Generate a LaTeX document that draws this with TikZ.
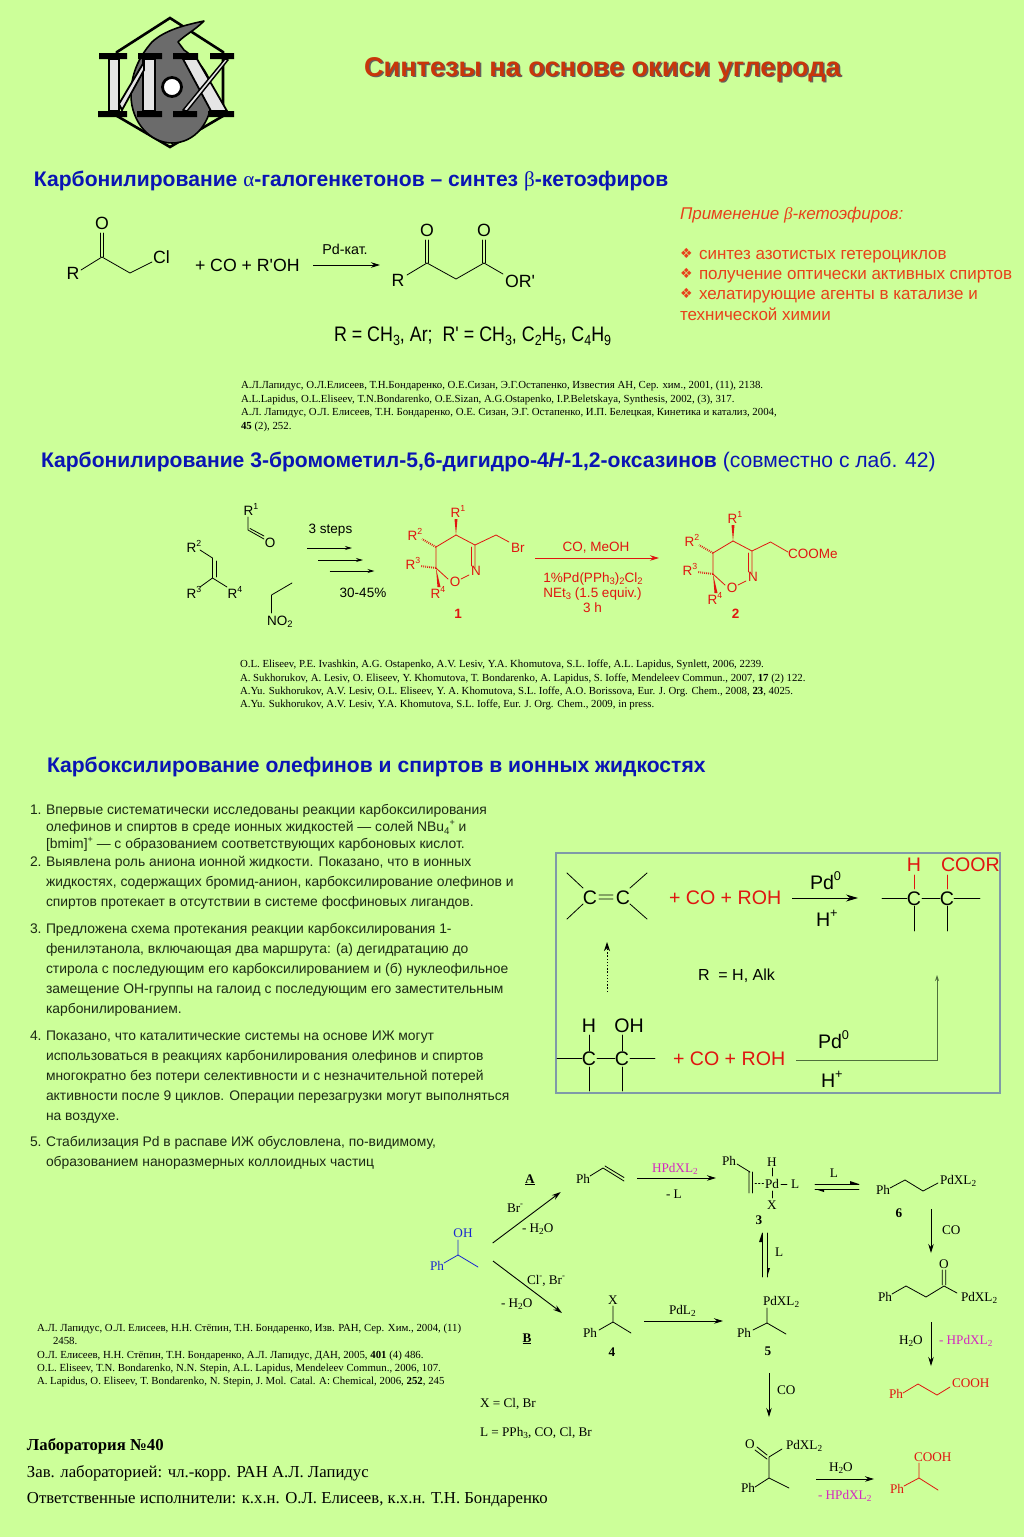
\documentclass[tikz,border=0pt]{standalone}
\usepackage{fontspec}
\setmainfont{Liberation Sans}
\newfontfamily\serf{Liberation Serif}
\newfontfamily\dejav{DejaVu Sans}
\newfontfamily\plainsans{Liberation Sans}
\usetikzlibrary{arrows.meta}
\definecolor{bgc}{HTML}{CCFF99}
\definecolor{headblue}{HTML}{0A14B4}
\definecolor{titlered}{HTML}{C8360A}
\definecolor{oran}{HTML}{E8401A}
\definecolor{rd}{HTML}{E01510}
\definecolor{mag}{HTML}{D428C0}
\definecolor{chemblue}{HTML}{1A28D0}
\definecolor{txtc}{HTML}{1C2A14}
\definecolor{panelc}{HTML}{7F9AA8}
\definecolor{olv}{HTML}{4F6F3C}
\newcommand\fs[1]{\fontsize{#1}{#1}\selectfont}
\newcommand\upp[1]{\raisebox{.42em}{\scalebox{.65}{#1}}}
\newcommand\dnn[1]{\raisebox{-.22em}{\scalebox{.7}{#1}}}
\newcommand\apo{{\plainsans '}}
\newcounter{nn}
\newcommand\lb[4]{\stepcounter{nn}\node[#1] (n\arabic{nn}) at (#2,#3) {#4};}
\newcommand\arr[6][]{\coordinate (#2-s) at (#3,#4);\coordinate (#2-e) at (#5,#6);\draw[arw,#1] (#2-s) -- (#2-e);}
\tikzset{
 tw/.style={anchor=base west,inner sep=0pt,outer sep=0pt},
 tc/.style={anchor=base,inner sep=0pt,outer sep=0pt},
 chl/.style={font=\fs{17.7}},
 chm/.style={font=\fs{13.5}},
 chb/.style={font=\fs{19.6}},
 sr/.style={font=\fs{13.2}\serf},
 srb/.style={font=\fs{13.2}\serf\bfseries},
 refs/.style={font=\fs{10.82}\serf},
 lst/.style={font=\fs{13.88},text=txtc},
 hd/.style={font=\fs{21.1}\bfseries,text=headblue},
 appl/.style={font=\fs{17},text=oran},
 bond/.style={line width=.8pt,line cap=round,line join=round},
 rbond/.style={bond,draw=rd},
 bbond/.style={bond,draw=chemblue},
 arw/.style={line width=.9pt,-{Stealth[length=9pt,width=5.5pt]}},
 hash/.style={line width=2pt,dash pattern=on .8pt off 1.2pt},
}
\newcommand\oxaring{%
 \draw[rbond] (456,535) -- (475,545) -- (475,568) (471.5,547) -- (471.5,566);
 \draw[rbond] (469,575) -- (461,579) (448,579) -- (436,568) -- (436,547) -- (456,535);
 \fill[rd] (454.5,519) -- (456,535) -- (457.5,519) -- cycle;
 \draw[hash,draw=rd] (436,547) -- (422,539);
 \draw[hash,draw=rd] (436,568) -- (421,566);
 \fill[rd] (436,568) -- (437.5,587) -- (440.5,587) -- cycle;
 \lb{tc,chm,text=rd}{458}{517}{R\upp{1}}
 \lb{tc,chm,text=rd}{476}{575}{N}
 \lb{tc,chm,text=rd}{455}{586}{O}
 \lb{tc,chm,text=rd}{415}{540}{R\upp{2}}
 \lb{tc,chm,text=rd}{413}{569}{R\upp{3}}
 \lb{tc,chm,text=rd}{438}{598}{R\upp{4}}
}
\begin{document}
\begin{tikzpicture}[x=1pt,y=-1pt]
\useasboundingbox (0,0) rectangle (1024,1537);
\fill[bgc] (0,0) rectangle (1024,1537);
% ---------- logo
\draw[line width=2.6pt,line join=miter] (170,18) -- (223,52) -- (223,116) -- (170,147) -- (117,116) -- (117,52) -- cycle;
\draw[line width=1.6pt,fill=black!58,line join=round] (204,21) .. controls (185,25) and (165,30) .. (152,42) .. controls (138,58) and (131,75) .. (131,95) .. controls (131,122) and (150,143) .. (172,143) .. controls (195,143) and (212,122) .. (212,95) .. controls (212,75) and (198,60) .. (184,50) -- (178,42) .. controls (185,35) and (195,30) .. (204,21) -- cycle;
\fill (99,53) rectangle (127,59) (138,53) rectangle (162,59) (173,53) rectangle (198,59) (210,53) rectangle (234,59);
\fill (98,111) rectangle (127,117) (137,111) rectangle (162,117) (173,111) rectangle (197,117) (208,111) rectangle (234,117);
\draw[line width=1.8pt,fill=black!10] (109,59) rectangle (119,111);
\draw[line width=1.8pt,fill=black!10] (143,59) rectangle (155,111);
\draw[line width=1.8pt,fill=black!10] (119,104) -- (144,62) -- (144,70) -- (122,110) -- cycle;
\draw[line width=1.8pt,fill=black!10] (183,59) -- (197,59) -- (227,111) -- (211,111) -- cycle;
\draw[line width=1.4pt,fill=black!10] (225,59) -- (228,60) -- (187,111) -- (183,110) -- cycle;
\draw[line width=2.8pt,fill=white] (172,87) circle (9.5);
% ---------- title
\lb{tw,font=\fs{27.15}\bfseries,text=black!62}{365.5}{77.5}{Синтезы на основе окиси углерода}
\lb{tw,font=\fs{27.15}\bfseries,text=titlered}{364}{76}{Синтезы на основе окиси углерода}
% ---------- section 1
\lb{tw,hd}{34}{186.5}{Карбонилирование {\serf\mdseries α}-галогенкетонов – синтез {\serf\mdseries β}-кетоэфиров}
\draw[bond] (81,270) -- (102,257) -- (130,273) -- (152,262);
\draw[bond] (100.3,233) -- (100.3,257) (103.7,233) -- (103.7,257);
\lb{tc,chl}{102}{229}{O}
\lb{tc,chl}{73}{279}{R}
\lb{tw,chl}{153}{263}{Cl}
\lb{tw,chl}{195}{271}{+ CO + R\apo OH}
\arr{a1}{313}{265}{380}{265}
\lb{tc,font=\fs{14.3}}{345}{254}{Pd-кат.}
\draw[bond] (407,275) -- (427,263) -- (456,279) -- (484,263) -- (503,274);
\draw[bond] (425.3,240) -- (425.3,263) (428.7,240) -- (428.7,263);
\draw[bond] (482.3,240) -- (482.3,263) (485.7,240) -- (485.7,263);
\lb{tc,chl}{427}{236}{O}
\lb{tc,chl}{484}{236}{O}
\lb{tc,chl}{398}{286}{R}
\lb{tw,chl}{505}{287}{OR\apo}
\lb{tw,font=\fs{21}}{334}{341}{\scalebox{.85}[1]{R = CH\dnn{3}, Ar;\ \ R\apo\ = CH\dnn{3}, C\dnn{2}H\dnn{5}, C\dnn{4}H\dnn{9}}}
\lb{tw,appl}{680}{219}{\itshape Применение {\serf β}-кетоэфиров:}
\lb{tw,appl,font=\fs{14}\dejav}{680}{258}{❖}
\lb{tw,appl}{699}{259}{синтез азотистых гетероциклов}
\lb{tw,appl,font=\fs{14}\dejav}{680}{278}{❖}
\lb{tw,appl}{699}{279}{получение оптически активных спиртов}
\lb{tw,appl,font=\fs{14}\dejav}{680}{298}{❖}
\lb{tw,appl}{699}{299}{хелатирующие агенты в катализе и}
\lb{tw,appl}{680}{320}{технической химии}
\lb{tw,refs}{241}{388}{А.Л.Лапидус, О.Л.Елисеев, Т.Н.Бондаренко, О.Е.Сизан, Э.Г.Остапенко, Известия АН, Сер. хим., 2001, (11), 2138.}
\lb{tw,refs}{241}{402}{A.L.Lapidus, O.L.Eliseev, T.N.Bondarenko, O.E.Sizan, A.G.Ostapenko, I.P.Beletskaya, Synthesis, 2002, (3), 317.}
\lb{tw,refs}{241}{415}{А.Л. Лапидус, О.Л. Елисеев, Т.Н. Бондаренко, О.Е. Сизан, Э.Г. Остапенко, И.П. Белецкая, Кинетика и катализ, 2004,}
\lb{tw,refs}{241}{429}{\textbf{45} (2), 252.}
% ---------- section 2
\lb{tw,hd}{41}{467}{Карбонилирование 3-бромометил-5,6-дигидро-4\textit{H}-1,2-оксазинов \mdseries(совместно с лаб. 42)}
\draw[bond] (200,550) -- (212.5,558) -- (212.5,578) -- (200,587) (212.5,578) -- (227,587) (216.5,561) -- (216.5,577);
\draw[bond] (248,517) -- (248,530) -- (264,539) (250,528.5) -- (264,536);
\draw[bond] (292,583) -- (271.5,595) -- (271.5,613);
\lb{tc,chm}{194}{552}{R\upp{2}}
\lb{tc,chm}{194}{598}{R\upp{3}}
\lb{tc,chm}{235}{598}{R\upp{4}}
\lb{tc,chm}{251}{515}{R\upp{1}}
\lb{tc,chm}{270}{547}{O}
\lb{tw,chm}{267}{625}{NO\dnn{2}}
\lb{tc,chm}{330.5}{533}{3 steps}
\arr[-{Stealth[length=7pt,width=4pt]}]{a2}{307}{548}{352}{548}
\arr[-{Stealth[length=7pt,width=4pt]}]{a3}{318}{560}{363}{560}
\arr[-{Stealth[length=7pt,width=4pt]}]{a4}{329.5}{571}{374.5}{571}
\lb{tc,chm}{363}{597}{30-45\%}
% molecule 1
\oxaring
\draw[rbond] (475,545) -- (496,535) -- (509,542);
\lb{tw,chm,text=rd}{511}{552}{Br}
\lb{tc,font=\fs{13.5}\bfseries,text=rd}{458}{618}{1}
\arr[draw=rd,fill=rd]{a5}{535}{558}{659}{558}
\lb{tc,chm,text=rd}{596}{551}{CO, MeOH}
\lb{tc,chm,text=rd}{593}{582}{1\%Pd(PPh\dnn{3})\dnn{2}Cl\dnn{2}}
\lb{tc,chm,text=rd}{592.5}{597}{NEt\dnn{3} (1.5 equiv.)}
\lb{tc,chm,text=rd}{592.5}{612}{3 h}
% molecule 2
\begin{scope}[shift={(277,6)}]
\oxaring
\draw[rbond] (475,545) -- (493.5,536) -- (511,546);
\lb{tw,chm,text=rd}{511}{552}{COOMe}
\lb{tc,font=\fs{13.5}\bfseries,text=rd}{458.5}{612}{2}
\end{scope}
\lb{tw,refs}{240}{667}{O.L. Eliseev, P.E. Ivashkin, A.G. Ostapenko, A.V. Lesiv, Y.A. Khomutova, S.L. Ioffe, A.L. Lapidus, Synlett, 2006, 2239.}
\lb{tw,refs}{240}{681}{A. Sukhorukov, A. Lesiv, O. Eliseev, Y. Khomutova, T. Bondarenko, A. Lapidus, S. Ioffe, Mendeleev Commun., 2007, \textbf{17} (2) 122.}
\lb{tw,refs}{240}{694}{A.Yu. Sukhorukov, A.V. Lesiv, O.L. Eliseev, Y. A. Khomutova, S.L. Ioffe, A.O. Borissova, Eur. J. Org. Chem., 2008, \textbf{23}, 4025.}
\lb{tw,refs}{240}{707}{A.Yu. Sukhorukov, A.V. Lesiv, Y.A. Khomutova, S.L. Ioffe, Eur. J. Org. Chem., 2009, in press.}
% ---------- section 3
\lb{tw,hd}{47}{772.5}{Карбоксилирование олефинов и спиртов в ионных жидкостях}
\lb{tw,lst}{30}{814}{1.}
\lb{tw,lst}{46}{814}{Впервые систематически исследованы реакции карбоксилирования}
\lb{tw,lst}{46}{831.5}{олефинов и спиртов в среде ионных жидкостей — солей NBu\dnn{4}\upp{+} и}
\lb{tw,lst}{46}{848}{[bmim]\upp{+} — с образованием соответствующих карбоновых кислот.}
\lb{tw,lst}{30}{866}{2.}
\lb{tw,lst}{46}{866}{Выявлена роль аниона ионной жидкости. Показано, что в ионных}
\lb{tw,lst}{46}{886}{жидкостях, содержащих бромид-анион, карбоксилирование олефинов и}
\lb{tw,lst}{46}{906}{спиртов протекает в отсутствии в системе фосфиновых лигандов.}
\lb{tw,lst}{30}{933}{3.}
\lb{tw,lst}{46}{933}{Предложена схема протекания реакции карбоксилирования 1-}
\lb{tw,lst}{46}{953}{фенилэтанола, включающая два маршрута: (а) дегидратацию до}
\lb{tw,lst}{46}{973}{стирола с последующим его карбоксилированием и (б) нуклеофильное}
\lb{tw,lst}{46}{993}{замещение ОН-группы на галоид с последующим его заместительным}
\lb{tw,lst}{46}{1013}{карбонилированием.}
\lb{tw,lst}{30}{1040}{4.}
\lb{tw,lst}{46}{1040}{Показано, что каталитические системы на основе ИЖ могут}
\lb{tw,lst}{46}{1060}{использоваться в реакциях карбонилирования олефинов и спиртов}
\lb{tw,lst}{46}{1080}{многократно без потери селективности и с незначительной потерей}
\lb{tw,lst}{46}{1100}{активности после 9 циклов. Операции перезагрузки могут выполняться}
\lb{tw,lst}{46}{1120}{на воздухе.}
\lb{tw,lst}{30}{1146}{5.}
\lb{tw,lst}{46}{1146}{Стабилизация Pd в распаве ИЖ обусловлена, по-видимому,}
\lb{tw,lst}{46}{1166}{образованием наноразмерных коллоидных частиц}
% panel
\draw[line width=1.2pt,draw=panelc] (556,853) rectangle (1000,1093);
\lb{tc,chb}{590}{904}{C}
\lb{tc,chb}{623}{904}{C}
\draw[bond] (567,873) -- (583,888) (567,919) -- (583,904) (647,873) -- (630,888) (647,919) -- (630,904) (599,895) -- (613,895) (599,899) -- (613,899);
\lb{tw,chb,text=rd}{669}{904}{+ CO + ROH}
\arr[-{Stealth[length=12pt,width=7pt]}]{a6}{792}{898}{858}{898}
\lb{tw,chb}{810}{889}{Pd\upp{0}}
\lb{tw,chb}{816}{926}{H\upp{+}}
\lb{tc,chb}{914}{905}{C}
\lb{tc,chb}{947}{905}{C}
\draw[bond] (882,898) -- (907,898) (922,898) -- (940,898) (954,898) -- (980,898) (914,906) -- (914,931) (947,906) -- (947,931);
\draw[rbond] (914,875) -- (914,889) (947,875) -- (947,889);
\lb{tc,chb,text=rd}{914}{871}{H}
\lb{tw,chb,text=rd}{941}{871}{COOR}
\arr[dash pattern=on 1.4pt off 1.8pt,line width=.8pt,-{Stealth[length=9pt,width=6pt]}]{a7}{607}{992}{607}{942}
\lb{tw,font=\fs{16}}{698}{980}{R\ \ = H, Alk}
\lb{tc,chb}{589}{1032}{H}
\lb{tc,chb}{629}{1032}{OH}
\lb{tc,chb}{589}{1065}{C}
\lb{tc,chb}{622}{1065}{C}
\draw[bond] (557,1058) -- (582,1058) (597,1058) -- (615,1058) (630,1058) -- (655,1058) (589,1035) -- (589,1051) (622,1035) -- (622,1051) (589,1067) -- (589,1091) (622,1067) -- (622,1091);
\lb{tw,chb,text=rd}{673}{1065}{+ CO + ROH}
\coordinate (a8s) at (796,1060);\coordinate (a8m) at (937,1060);\coordinate (a8e) at (937,975);
\draw[line width=.9pt,draw=olv,-{Stealth[length=6pt,width=4pt]}] (a8s) -- (a8m) -- (a8e);
\lb{tw,chb}{818}{1048}{Pd\upp{0}}
\lb{tw,chb}{821}{1087}{H\upp{+}}
% ---------- catalytic scheme
\lb{tc,srb}{530}{1183}{\underline{A}}
\lb{tw,sr}{576}{1183}{Ph}
\draw[bond] (590,1176) -- (603,1168) -- (624,1181) (605,1166) -- (624,1177.5);
\arr{a9}{492.7}{1243}{560.7}{1192}
\lb{tw,sr}{507}{1212}{Br\upp{-}}
\lb{tw,sr}{522}{1232}{- H\dnn{2}O}
\lb{tw,sr,text=mag}{652}{1172}{HPdXL\dnn{2}}
\arr{a10}{637}{1178}{716}{1178}
\lb{tw,sr}{666}{1198}{- L}
\lb{tc,sr,text=chemblue}{463}{1237}{OH}
\draw[bbond] (458,1240) -- (458,1255) -- (444,1263) (458,1255) -- (478,1267);
\lb{tw,sr,text=chemblue}{430}{1270}{Ph}
\arr{a11}{493}{1261}{562}{1313}
\lb{tw,sr}{527}{1284}{Cl\upp{-}, Br\upp{-}}
\lb{tw,sr}{501}{1307}{- H\dnn{2}O}
\lb{tc,srb}{527}{1342}{\underline{B}}
\lb{tc,sr}{613}{1304}{X}
\draw[bond] (613,1306) -- (613,1322) -- (631,1333) (613,1322) -- (599,1330);
\lb{tw,sr}{583}{1337}{Ph}
\lb{tc,srb}{612}{1356}{4}
\lb{tw,sr}{669}{1314}{PdL\dnn{2}}
\arr{a12}{644}{1321}{723}{1321}
% 3
\lb{tw,sr}{722}{1165}{Ph}
\draw[bond] (737,1164) -- (750,1172) (749,1172) -- (749,1193) (752.5,1172) -- (752.5,1193);
\draw[bond,dash pattern=on 1.5pt off 2pt] (755,1183) -- (765,1183);
\lb{tw,sr}{765}{1188}{Pd}
\lb{tc,sr}{772}{1166}{H}
\lb{tc,sr}{772}{1209}{X}
\draw[bond] (772,1168) -- (772,1176) (772,1191) -- (772,1198) (781,1184) -- (787,1184);
\lb{tw,sr}{791}{1188}{L}
\lb{tc,srb}{759}{1224}{3}
\lb{tc,sr}{834}{1177}{L}
\draw[bond] (815,1184) -- (859,1184) (815,1189) -- (859,1189);
\fill (859,1184) -- (850,1181) -- (850,1184) -- cycle (815,1189) -- (824,1192) -- (824,1189) -- cycle;
% 6
\lb{tw,sr}{876}{1194}{Ph}
\draw[bond] (890,1188) -- (905,1180) -- (923,1191) -- (938,1183);
\lb{tw,sr}{940}{1184}{PdXL\dnn{2}}
\lb{tc,srb}{899}{1217}{6}
\arr{a13}{931}{1209}{931}{1253}
\lb{tw,sr}{942}{1234}{CO}
% vertical equilibrium
\draw[bond] (762,1277) -- (762,1233) (767,1233) -- (767,1277);
\fill (762,1233) -- (759,1242) -- (762,1242) -- cycle (767,1277) -- (770,1268) -- (767,1268) -- cycle;
\lb{tw,sr}{775}{1256}{L}
% 5
\lb{tw,sr}{763}{1305}{PdXL\dnn{2}}
\draw[bond] (767,1308) -- (767,1323) -- (786,1334) (767,1323) -- (753,1330);
\lb{tw,sr}{737}{1337}{Ph}
\lb{tc,srb}{768}{1355}{5}
% 7
\lb{tc,sr}{944}{1268}{O}
\draw[bond] (942.3,1270) -- (942.3,1285) (945.8,1270) -- (945.8,1285) (944,1286) -- (926,1297) -- (906,1286) -- (892,1294) (944,1286) -- (957,1293);
\lb{tw,sr}{878}{1301}{Ph}
\lb{tw,sr}{961}{1301}{PdXL\dnn{2}}
\arr{a14}{931}{1322}{931}{1366}
\lb{tw,sr}{899}{1344}{H\dnn{2}O}
\lb{tw,sr,text=mag}{939}{1344}{- HPdXL\dnn{2}}
% acid 1
\lb{tw,sr,text=rd}{889}{1398}{Ph}
\draw[rbond] (903,1393) -- (918,1384) -- (937,1395) -- (950,1387);
\lb{tw,sr,text=rd}{952}{1387}{COOH}
% lower right
\arr{a15}{769}{1373}{769}{1417}
\lb{tw,sr}{777}{1394}{CO}
\lb{tc,sr}{750}{1448}{O}
\draw[bond] (757,1447) -- (767,1455) (755,1450) -- (767,1459) (769,1457) -- (782,1449) (769,1457) -- (769,1478) -- (789,1488) (769,1478) -- (755,1487);
\lb{tw,sr}{786}{1449}{PdXL\dnn{2}}
\lb{tw,sr}{741}{1492}{Ph}
\arr{a16}{816}{1479}{874}{1479}
\lb{tw,sr}{829}{1471}{H\dnn{2}O}
\lb{tw,sr,text=mag}{818}{1499}{- HPdXL\dnn{2}}
\lb{tw,sr,text=rd}{914}{1461}{COOH}
\draw[rbond] (919,1463) -- (919,1478) -- (938,1490) (919,1478) -- (904,1486);
\lb{tw,sr,text=rd}{890}{1493}{Ph}
\lb{tw,sr}{480}{1407}{X = Cl, Br}
\lb{tw,sr}{480}{1436}{L = PPh\dnn{3}, CO, Cl, Br}
% refs 3
\lb{tw,refs}{37}{1331}{А.Л. Лапидус, О.Л. Елисеев, Н.Н. Стёпин, Т.Н. Бондаренко, Изв. РАН, Сер. Хим., 2004, (11)}
\lb{tw,refs}{53}{1344}{2458.}
\lb{tw,refs}{37}{1358}{О.Л. Елисеев, Н.Н. Стёпин, Т.Н. Бондаренко, А.Л. Лапидус, ДАН, 2005, \textbf{401} (4) 486.}
\lb{tw,refs}{37}{1371}{O.L. Eliseev, T.N. Bondarenko, N.N. Stepin, A.L. Lapidus, Mendeleev Commun., 2006, 107.}
\lb{tw,refs}{37}{1384}{A. Lapidus, O. Eliseev, T. Bondarenko, N. Stepin, J. Mol. Catal. A: Chemical, 2006, \textbf{252}, 245}
% footer
\lb{tw,font=\fs{16.73}\serf\bfseries}{27}{1450.5}{Лаборатория №40}
\lb{tw,font=\fs{16.73}\serf}{27}{1477}{Зав. лабораторией: чл.-корр. РАН А.Л. Лапидус}
\lb{tw,font=\fs{16.73}\serf}{27}{1503}{Ответственные исполнители: к.х.н. О.Л. Елисеев, к.х.н. Т.Н. Бондаренко}
\end{tikzpicture}
\end{document}
